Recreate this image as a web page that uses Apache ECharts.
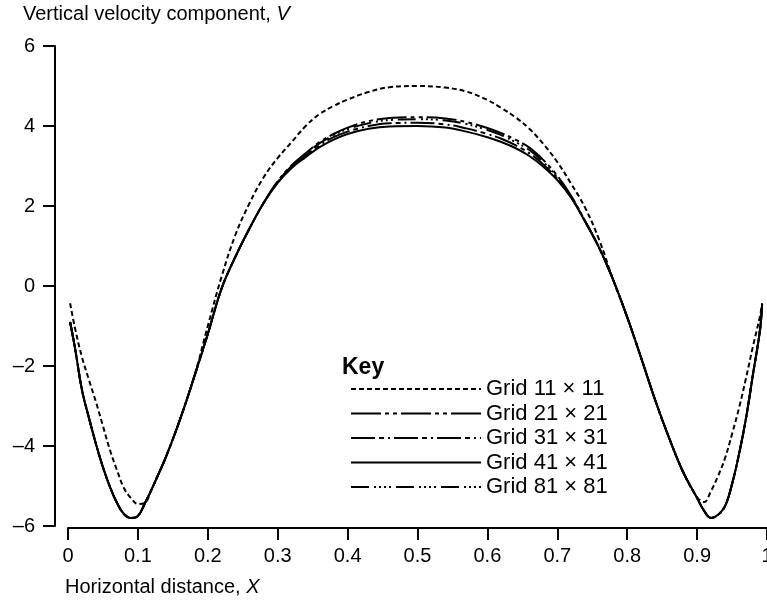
<!DOCTYPE html>
<html>
<head>
<meta charset="utf-8">
<script src="https://cdn.jsdelivr.net/npm/echarts@6/dist/echarts.min.js"></script>
<style>
html,body{margin:0;padding:0;background:#fff;}
#chart{width:767px;height:600px;}
</style>
</head>
<body>
<div id="chart"></div>
<script>
// Horizontal distance X (shared by all series)
const xValues = [0.003, 0.01, 0.02, 0.03, 0.04, 0.05, 0.06, 0.07, 0.08, 0.09, 0.1, 0.11, 0.12, 0.13, 0.14, 0.16, 0.18, 0.2, 0.22, 0.24, 0.26, 0.28, 0.3, 0.32, 0.34, 0.36, 0.38, 0.4, 0.43, 0.46, 0.5, 0.54, 0.57, 0.6, 0.62, 0.64, 0.66, 0.68, 0.7, 0.72, 0.74, 0.76, 0.78, 0.8, 0.82, 0.84, 0.86, 0.88, 0.9, 0.91, 0.92, 0.93, 0.94, 0.95, 0.96, 0.97, 0.98, 0.99, 0.993];

const grid11 = [-0.43, -1.05, -1.78, -2.35, -2.9, -3.5, -4.1, -4.6, -5.05, -5.3, -5.45, -5.42, -5.07, -4.68, -4.28, -3.35, -2.3, -1.0, 0.25, 1.3, 2.08, 2.72, 3.2, 3.6, 4.0, 4.3, 4.5, 4.66, 4.85, 4.97, 5.0, 4.96, 4.86, 4.65, 4.45, 4.22, 3.93, 3.55, 3.1, 2.55, 1.95, 1.15, 0.15, -0.78, -1.8, -2.85, -3.8, -4.65, -5.28, -5.4, -5.12, -4.75, -4.3, -3.7, -3.05, -2.3, -1.5, -0.75, -0.43];

const grid21 = [-0.9, -1.55, -2.6, -3.3, -3.95, -4.53, -5.02, -5.42, -5.7, -5.8, -5.75, -5.43, -5.07, -4.68, -4.28, -3.35, -2.3, -1.2, -0.05, 0.75, 1.45, 2.08, 2.62, 3.02, 3.32, 3.6, 3.8, 3.96, 4.12, 4.2, 4.22, 4.19, 4.1, 3.95, 3.82, 3.66, 3.46, 3.15, 2.76, 2.25, 1.62, 0.95, 0.15, -0.78, -1.8, -2.85, -3.8, -4.65, -5.3, -5.62, -5.8, -5.72, -5.5, -4.95, -4.2, -3.3, -2.2, -1.1, -0.45];

const grid31 = [-0.9, -1.55, -2.6, -3.3, -3.95, -4.53, -5.02, -5.42, -5.7, -5.8, -5.75, -5.43, -5.07, -4.68, -4.28, -3.35, -2.3, -1.2, -0.05, 0.75, 1.45, 2.08, 2.6, 2.97, 3.26, 3.52, 3.72, 3.86, 4.0, 4.07, 4.08, 4.04, 3.94, 3.8, 3.68, 3.52, 3.32, 3.04, 2.68, 2.22, 1.61, 0.95, 0.15, -0.78, -1.8, -2.85, -3.8, -4.65, -5.3, -5.62, -5.8, -5.72, -5.5, -4.95, -4.2, -3.3, -2.2, -1.1, -0.45];

const grid41 = [-0.9, -1.55, -2.6, -3.3, -3.95, -4.53, -5.02, -5.42, -5.7, -5.8, -5.75, -5.43, -5.07, -4.68, -4.28, -3.35, -2.3, -1.2, -0.05, 0.75, 1.45, 2.08, 2.58, 2.95, 3.22, 3.47, 3.66, 3.8, 3.93, 3.99, 4.0, 3.96, 3.86, 3.72, 3.6, 3.45, 3.25, 2.98, 2.65, 2.2, 1.6, 0.95, 0.15, -0.78, -1.8, -2.85, -3.8, -4.65, -5.3, -5.62, -5.8, -5.72, -5.5, -4.95, -4.2, -3.3, -2.2, -1.1, -0.45];

const grid81 = [-0.9, -1.55, -2.6, -3.3, -3.95, -4.53, -5.02, -5.42, -5.7, -5.8, -5.75, -5.43, -5.07, -4.68, -4.28, -3.35, -2.3, -1.2, -0.05, 0.75, 1.45, 2.08, 2.6, 3.0, 3.3, 3.57, 3.77, 3.92, 4.07, 4.15, 4.17, 4.14, 4.05, 3.9, 3.77, 3.6, 3.4, 3.1, 2.72, 2.23, 1.61, 0.95, 0.15, -0.78, -1.8, -2.85, -3.8, -4.65, -5.3, -5.62, -5.8, -5.72, -5.5, -4.95, -4.2, -3.3, -2.2, -1.1, -0.45];

const seriesNames = ['Grid 11 \u00d7 11', 'Grid 21 \u00d7 21', 'Grid 31 \u00d7 31', 'Grid 41 \u00d7 41', 'Grid 81 \u00d7 81'];
const seriesValues = [grid11, grid21, grid31, grid41, grid81];
const dashTypes = [[5, 3], [30, 4, 4, 4, 4, 4], [24, 4, 5, 4, 2, 4], 'solid', [18, 5, 2, 3, 2, 3, 2, 3, 2, 5]];

const xTicks = { min: 0, max: 1, interval: 0.1 };
const yTicks = { min: -6, max: 6, interval: 2 };

const FONT = 'Liberation Sans, Arial, Helvetica, sans-serif';

const chart = echarts.init(document.getElementById('chart'), null, { renderer: 'canvas' });

const series = seriesNames.map((name, i) => ({
  name: name,
  type: 'line',
  symbol: 'none',
  smooth: 0.4,
  data: xValues.map((x, j) => [x, seriesValues[i][j]]),
  lineStyle: { color: '#000', width: 2, type: dashTypes[i] },
  itemStyle: { color: '#000' },
  z: i === 3 ? 3 : 2
}));

chart.setOption({
  backgroundColor: '#fff',
  animation: false,
  textStyle: { fontFamily: FONT, color: '#000' },
  title: [
    {
      text: 'Vertical velocity component, {i|V}',
      left: 23, top: 4, padding: 0,
      textStyle: {
        fontFamily: FONT, fontSize: 20, fontWeight: 'normal', color: '#000',
        rich: { i: { fontFamily: FONT, fontSize: 20, fontStyle: 'italic', color: '#000' } }
      }
    },
    {
      text: 'Horizontal distance, {i|X}',
      left: 65, top: 577, padding: 0,
      textStyle: {
        fontFamily: FONT, fontSize: 20, fontWeight: 'normal', color: '#000',
        rich: { i: { fontFamily: FONT, fontSize: 20, fontStyle: 'italic', color: '#000' } }
      }
    },
    {
      text: 'Key',
      left: 342, top: 356, padding: 0,
      textStyle: { fontFamily: FONT, fontSize: 23, fontWeight: 'bold', color: '#000' }
    }
  ],
  legend: {
    orient: 'vertical',
    left: 350, top: 378,
    padding: 0,
    itemWidth: 130, itemHeight: 14, itemGap: 2.5,
    data: seriesNames,
    textStyle: { fontFamily: FONT, fontSize: 22, color: '#000', lineHeight: 22 },
    lineStyle: { color: '#000', width: 2 },
    itemStyle: { opacity: 0 }
  },
  grid: { left: 68, right: 0, top: 46, bottom: 74, containLabel: false, outerBoundsMode: 'none' },
  xAxis: {
    type: 'value',
    min: xTicks.min, max: xTicks.max, interval: xTicks.interval,
    offset: 2,
    splitLine: { show: false },
    axisLine: { onZero: false, lineStyle: { color: '#000', width: 2 } },
    axisTick: { length: 12, lineStyle: { color: '#000', width: 2 } },
    axisLabel: { fontFamily: FONT, fontSize: 20, color: '#000', margin: 18, showMaxLabel: true }
  },
  yAxis: {
    type: 'value',
    min: yTicks.min, max: yTicks.max, interval: yTicks.interval,
    offset: 13,
    splitLine: { show: false },
    axisLine: { onZero: false, lineStyle: { color: '#000', width: 2 } },
    axisTick: { length: 12, lineStyle: { color: '#000', width: 2 } },
    axisLabel: {
      fontFamily: FONT, fontSize: 20, color: '#000', margin: 20,
      formatter: v => (v < 0 ? '\u2013' + Math.abs(v) : String(v))
    }
  },
  series: series
});
</script>
</body>
</html>
